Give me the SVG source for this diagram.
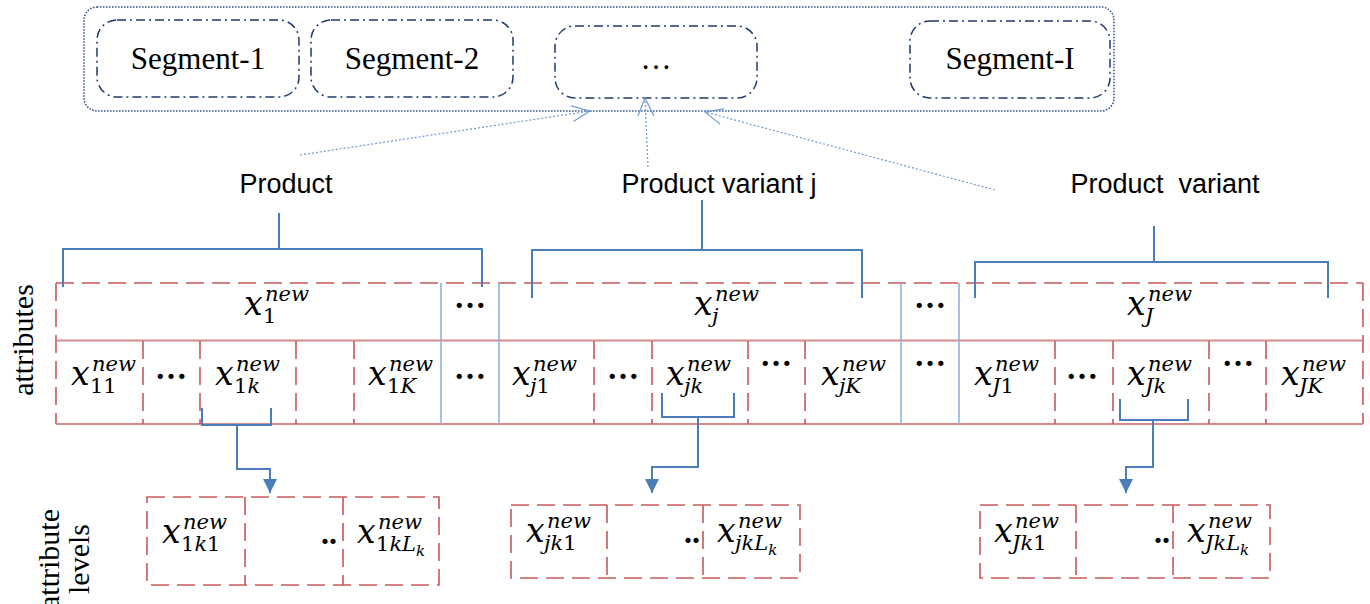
<svg xmlns="http://www.w3.org/2000/svg" width="1370" height="604" viewBox="0 0 1370 604">
  <style>
    .seg { fill: none; stroke: #1f3a6e; stroke-width: 1.5; stroke-dasharray: 9 4 2 4; }
    .outer { fill: none; stroke: #2f4f8f; stroke-width: 1.5; stroke-dasharray: 1.5 1.5; }
    .segtxt { font-family: "Liberation Serif", serif; font-size: 31px; fill: #000; text-anchor: middle; }
    .lbl { font-family: "Liberation Sans", Arial, sans-serif; font-size: 27px; fill: #000; text-anchor: middle; white-space: pre; }
    .side { font-family: "Liberation Serif", serif; font-size: 30px; fill: #000; text-anchor: middle; }
    .m { font-family: "DejaVu Serif", serif; font-style: italic; font-size: 33px; fill: #000; }
    .s { font-size: 21px; }
    .ss { font-size: 15px; }
    .u { font-style: normal; }
    .dots { font-family: "Liberation Serif", serif; font-size: 32px; font-weight: bold; fill: #000; text-anchor: middle; }
    .rdash { fill: none; stroke: #c9585a; stroke-width: 1.6; stroke-dasharray: 18 8; }
    .rsolid { fill: none; stroke: #d68a89; stroke-width: 2; }
    .bdiv { fill: none; stroke: #8db3e2; stroke-width: 1.6; }
    .brk { fill: none; stroke: #4a7ebb; stroke-width: 2; }
    .dot { fill: none; stroke: #6f9bd4; stroke-width: 1.2; stroke-dasharray: 2 2; }
  </style>
  <defs>
    <marker id="fill-arrow" viewBox="0 0 10 10" refX="10" refY="5" markerWidth="15" markerHeight="14" markerUnits="userSpaceOnUse" orient="auto">
      <path d="M0,0 L10,5 L0,10 z" fill="#4a7ebb"/>
    </marker>
    <marker id="open-arrow" viewBox="0 0 20 20" refX="18" refY="10" markerWidth="20" markerHeight="20" markerUnits="userSpaceOnUse" orient="auto">
      <path d="M0,2 L18,10 L0,18" fill="none" stroke="#6f9bd4" stroke-width="1.2"/>
    </marker>
  </defs>

  <rect width="1370" height="604" fill="#fff"/>

  <!-- segments container -->
  <g id="segments">
    <rect class="outer" x="84" y="7" width="1030" height="104" rx="13"/>
    <g id="segment-1">
      <rect class="seg" x="97" y="20" width="202" height="77" rx="20"/>
      <text class="segtxt" x="198" y="69">Segment-1</text>
    </g>
    <g id="segment-2">
      <rect class="seg" x="311" y="20" width="202" height="77" rx="20"/>
      <text class="segtxt" x="412" y="69">Segment-2</text>
    </g>
    <g id="segment-dots">
      <rect class="seg" x="555" y="26" width="202" height="72" rx="20"/>
      <text class="segtxt" x="656" y="69">…</text>
    </g>
    <g id="segment-I">
      <rect class="seg" x="910" y="21" width="200" height="77" rx="20"/>
      <text class="segtxt" x="1010" y="69">Segment-I</text>
    </g>
  </g>

  <!-- product labels -->
  <g id="product"><text class="lbl" x="286" y="193">Product</text></g>
  <g id="product-variant-j"><text class="lbl" x="719" y="193">Product variant j</text></g>
  <g id="product-variant"><text class="lbl" x="1165" y="193" xml:space="preserve">Product  variant</text></g>

  <!-- side labels -->
  <g id="label-attributes">
    <text class="side" transform="translate(33,340) rotate(-90)">attributes</text>
  </g>
  <g id="label-levels">
    <text class="side" transform="translate(59,559) rotate(-90)"><tspan x="0" y="0">attribute</tspan><tspan x="0" y="30">levels</tspan></text>
  </g>

  <!-- attribute table -->
  <g id="attribute-table">
    <path class="rdash" d="M56,283 H1363"/>
    <path class="rdash" d="M56,283 V424"/>
    <path class="rdash" d="M1363,283 V424"/>
    <path class="rsolid" d="M56,340.5 H1363 M56,424 H1363"/>
    <path class="rdash" d="M143,341 V424 M200,341 V424 M296,341 V424 M354,341 V424 M594,341 V424 M652,341 V424 M748,341 V424 M805,341 V424 M1055,341 V424 M1113,341 V424 M1209,341 V424 M1266,341 V424"/>
    <path class="bdiv" d="M441,283 V424 M499,283 V424 M901,283 V424 M959,283 V424"/>

    <!-- top row -->
    <text class="m" x="244" y="315">x<tspan class="s" x="265" y="301">new</tspan><tspan class="s u" x="263" y="323">1</tspan></text>
    <text class="m" x="694" y="315">x<tspan class="s" x="715" y="301">new</tspan><tspan class="s" x="712" y="323">j</tspan></text>
    <text class="m" x="1127" y="315">x<tspan class="s" x="1148" y="301">new</tspan><tspan class="s" x="1145" y="323">J</tspan></text>
    <text class="dots" x="470" y="308">…</text>
    <text class="dots" x="930" y="308">…</text>

    <!-- second row -->
    <text class="m" x="71" y="385">x<tspan class="s" x="92" y="371">new</tspan><tspan class="s u" x="90" y="393">11</tspan></text>
    <text class="m" x="215" y="385">x<tspan class="s" x="236" y="371">new</tspan><tspan class="s" x="234" y="393"><tspan class="u">1</tspan>k</tspan></text>
    <text class="m" x="368" y="385">x<tspan class="s" x="389" y="371">new</tspan><tspan class="s" x="387" y="393"><tspan class="u">1</tspan>K</tspan></text>
    <text class="m" x="512" y="385">x<tspan class="s" x="533" y="371">new</tspan><tspan class="s" x="530" y="393">j<tspan class="u">1</tspan></tspan></text>
    <text class="m" x="666" y="385">x<tspan class="s" x="687" y="371">new</tspan><tspan class="s" x="684" y="393">jk</tspan></text>
    <text class="m" x="821" y="385">x<tspan class="s" x="842" y="371">new</tspan><tspan class="s" x="839" y="393">jK</tspan></text>
    <text class="m" x="974" y="385">x<tspan class="s" x="995" y="371">new</tspan><tspan class="s" x="992" y="393">J<tspan class="u">1</tspan></tspan></text>
    <text class="m" x="1127" y="385">x<tspan class="s" x="1148" y="371">new</tspan><tspan class="s" x="1145" y="393">Jk</tspan></text>
    <text class="m" x="1281" y="385">x<tspan class="s" x="1302" y="371">new</tspan><tspan class="s" x="1299" y="393">JK</tspan></text>
    <text class="dots" x="171" y="379">…</text>
    <text class="dots" x="470" y="379">…</text>
    <text class="dots" x="623" y="379">…</text>
    <text class="dots" x="776" y="366">…</text>
    <text class="dots" x="930" y="366">…</text>
    <text class="dots" x="1082" y="379">…</text>
    <text class="dots" x="1238" y="366">…</text>
  </g>

  <!-- attribute levels -->
  <g id="levels-1">
    <rect class="rdash" x="147" y="497" width="292" height="88"/>
    <path class="rdash" d="M245,497 V585 M343,497 V585"/>
    <text class="m" x="162" y="543">x<tspan class="s" x="183" y="529">new</tspan><tspan class="s" x="181" y="551"><tspan class="u">1</tspan>k<tspan class="u">1</tspan></tspan></text>
    <text class="dots" x="337" y="544" style="text-anchor:end">..</text>
    <text class="m" x="357" y="543">x<tspan class="s" x="378" y="529">new</tspan><tspan class="s" x="376" y="551"><tspan class="u">1</tspan>kL</tspan><tspan class="ss" y="556">k</tspan></text>
  </g>
  <g id="levels-j">
    <rect class="rdash" x="511" y="505" width="289" height="73"/>
    <path class="rdash" d="M607,505 V578 M703,505 V578"/>
    <text class="m" x="526" y="542">x<tspan class="s" x="547" y="528">new</tspan><tspan class="s" x="544" y="550">jk<tspan class="u">1</tspan></tspan></text>
    <text class="dots" x="700" y="543" style="text-anchor:end">..</text>
    <text class="m" x="717" y="542">x<tspan class="s" x="738" y="528">new</tspan><tspan class="s" x="735" y="550">jkL</tspan><tspan class="ss" y="555">k</tspan></text>
  </g>
  <g id="levels-J">
    <rect class="rdash" x="980" y="505" width="290" height="73"/>
    <path class="rdash" d="M1076,505 V578 M1173,505 V578"/>
    <text class="m" x="994" y="542">x<tspan class="s" x="1015" y="528">new</tspan><tspan class="s" x="1012" y="550">Jk<tspan class="u">1</tspan></tspan></text>
    <text class="dots" x="1170" y="543" style="text-anchor:end">..</text>
    <text class="m" x="1187" y="542">x<tspan class="s" x="1208" y="528">new</tspan><tspan class="s" x="1205" y="550">JkL</tspan><tspan class="ss" y="555">k</tspan></text>
  </g>

  <!-- connectors -->
  <g id="connectors">
    <path class="dot" d="M300,155 L590,111" marker-end="url(#open-arrow)"/>
    <path class="dot" d="M648,167 L645,98" marker-end="url(#open-arrow)"/>
    <path class="dot" d="M995,190 L705,112" marker-end="url(#open-arrow)"/>

    <path class="brk" d="M279,213 V249 M63,287 V249 H482 V287"/>
    <path class="brk" d="M702,200 V250 M532,298 V250 H862 V298"/>
    <path class="brk" d="M1154,226 V262 M975,298 V262 H1328 V298"/>

    <path class="brk" d="M202,408 V425 H271 V408"/>
    <path class="brk" d="M237,425 V469 H270 V493" marker-end="url(#fill-arrow)"/>
    <path class="brk" d="M662,393 V417 H734 V393"/>
    <path class="brk" d="M698,417 V467 H652 V493" marker-end="url(#fill-arrow)"/>
    <path class="brk" d="M1120,399 V420 H1188 V399"/>
    <path class="brk" d="M1153,420 V467 H1126 V493" marker-end="url(#fill-arrow)"/>
  </g>
</svg>
